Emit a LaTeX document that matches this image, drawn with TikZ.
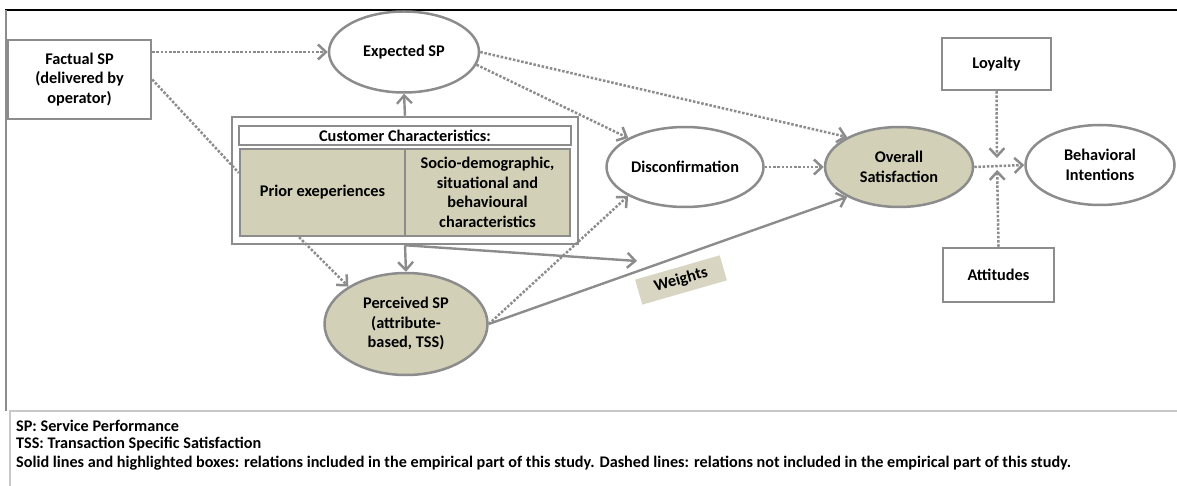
\documentclass[tikz,border=0pt]{standalone}
\usepackage{fontspec}
\setmainfont{Carlito}
\usetikzlibrary{shapes.geometric,arrows.meta,calc}

\definecolor{linegrey}{RGB}{140,140,140}
\definecolor{khaki}{RGB}{211,208,184}
\definecolor{weightfill}{RGB}{216,214,194}
\definecolor{framegrey}{RGB}{200,200,200}

\tikzset{
  box/.style={draw=linegrey, line width=2.5pt, fill=white, align=center, inner sep=0pt,
    font=\bfseries\fontsize{16.3}{19.5}\selectfont},
  oval/.style={box, ellipse},
  hl/.style={fill=khaki},
  legend/.style={anchor=west, inner sep=0pt, font=\bfseries\fontsize{16.2}{19}\selectfont},
  solidarr/.style={draw=linegrey, line width=2.4pt, -{Straight Barb[length=8pt,width=15pt]}},
  dotline/.style={draw=linegrey, line width=2.5pt, dash pattern=on 2.5pt off 1.7pt},
  dotarr/.style={dotline, -{Straight Barb[length=8pt,width=15pt]}},
}

\begin{document}
\begin{tikzpicture}[x=1pt, y=-1pt]
\useasboundingbox (0,0) rectangle (1177,486);

% frame and legend box
\draw[black, line width=1.8pt] (5,10) -- (1177,10);
\draw[linegrey, line width=1.2pt] (6,10) -- (6,411);
\draw[framegrey, line width=1.2pt] (1177,411) -- (10,411) -- (10,486);

% left part
\node[box, minimum width=143pt, minimum height=79pt] (factual) at (79.5,79.5)
  {Factual SP\\(delivered by\\operator)};
\node[oval, minimum width=150pt, minimum height=81pt] (expected) at (404,52) {Expected SP};

\node[box, minimum width=346pt, minimum height=127pt] (outer) at (405,180.5) {};
\node[box, minimum width=332pt, minimum height=19pt] (title) at (405,135.5) {Customer Characteristics:};
\node[box, hl, minimum width=165pt, minimum height=87pt] (prior) at (322.5,192.5) {Prior exeperiences};
\node[box, hl, minimum width=165pt, minimum height=87pt] (socio) at (487.5,192.5)
  {Socio-demographic,\\situational and\\behavioural\\characteristics};

\node[oval, hl, minimum width=163pt, minimum height=102pt] (perceived) at (406,324)
  {Perceived SP\\(attribute-\\based, TSS)};
\node[box, draw=none, fill=weightfill, rotate=16, minimum width=88pt, minimum height=26pt] (weights)
  at (681,280) {Weights};
\coordinate (wtip) at (637,261);

% right part
\node[oval, minimum width=157pt, minimum height=80pt] (disconf) at (685,167) {Disconfirmation};
\node[oval, hl, minimum width=148pt, minimum height=80pt] (overall) at (899,167) {Overall\\Satisfaction};
\node[oval, minimum width=149pt, minimum height=80pt] (behav) at (1100,165) {Behavioral\\Intentions};
\node[box, minimum width=109pt, minimum height=52pt] (loyalty) at (996.5,64) {Loyalty};
\node[box, minimum width=111pt, minimum height=54pt] (attitudes) at (998.5,275) {Attitudes};
\coordinate (j) at (997,164);

% connectors
\draw[dotarr] (factual.east |- expected.west) -- (expected.west);
\draw[dotline] (factual.east) -- ($(prior.north west)!.28!(prior.south west)$);
\draw[solidarr] (outer.north) -- (expected.south);
\draw[solidarr] (outer.south) -- (perceived.north);
\draw[dotarr] ($(prior.south west)!.36!(prior.south east)$) -- (perceived.147);
\draw[solidarr] (outer.south) -- (wtip);
\draw[dotarr] (perceived.east) -- (disconf.207);
\draw[solidarr] (perceived.east) -- (overall.210);
\draw[dotarr] (expected.east) -- (overall.150);
\draw[dotarr] (expected.-10) -- (disconf.153);
\draw[dotarr] (disconf.east) -- (overall.west);
\draw[dotarr] (overall.east) -- (behav.west);
\draw[dotarr, shorten >=6pt] (loyalty.south) -- (j);
\draw[dotarr, shorten >=6pt] (attitudes.north) -- (j);

% legend
\node[legend] (lsp) at (16,426) {SP: Service Performance};
\node[legend] (ltss) at (16,444.5) {TSS: Transaction Specific Satisfaction};
\node[legend] (lnote) at (16,463) {Solid lines and highlighted boxes: relations included in the empirical part of this study. Dashed lines: relations not included in the empirical part of this study.};
\end{tikzpicture}
\end{document}
